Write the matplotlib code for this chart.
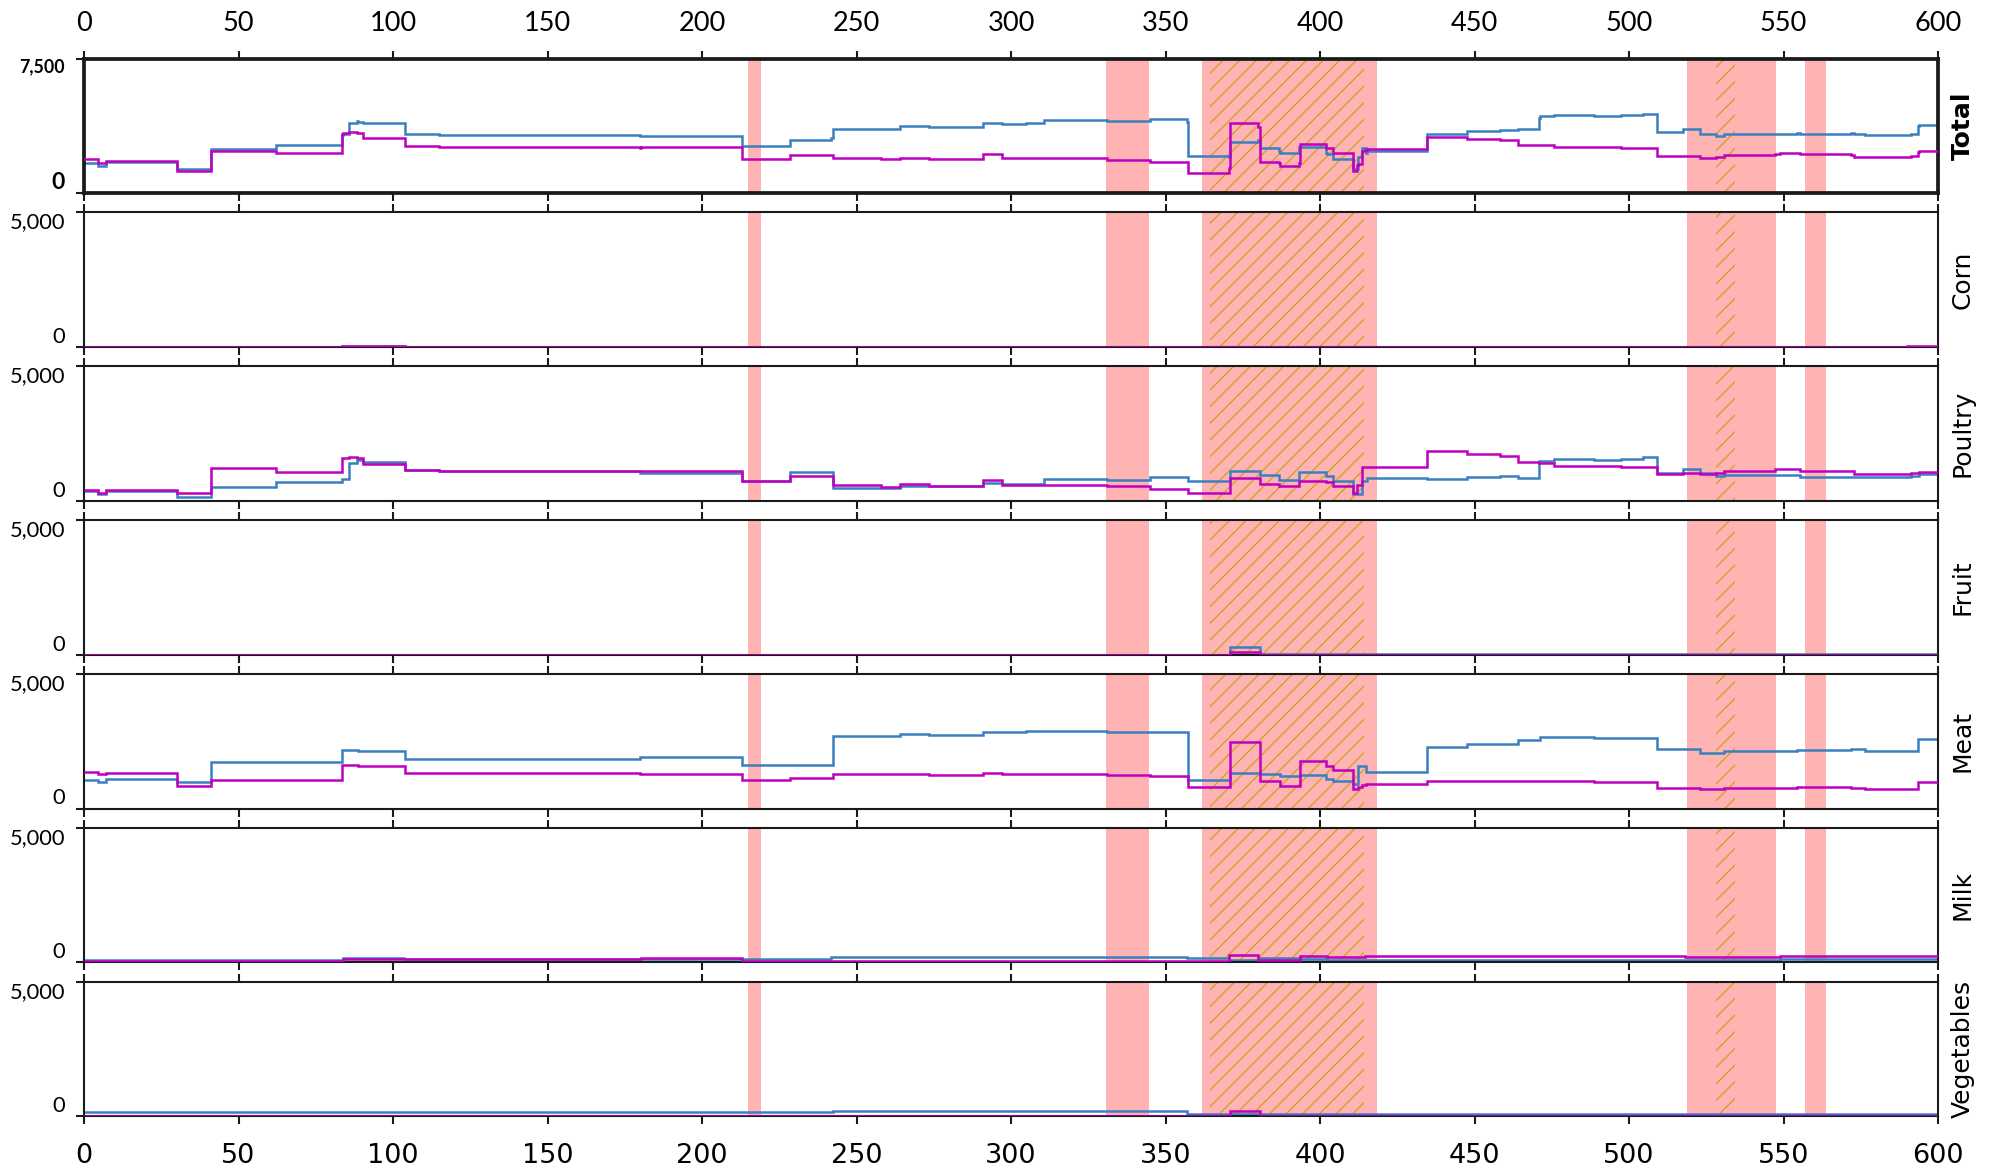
import matplotlib
matplotlib.use("Agg")
import matplotlib.pyplot as plt
import numpy as np

# step series: edges (len n+1), blue values and magenta values (len n)
corn_edges = [0, 83.6, 104, 590, 600]
corn_blue = [5, 20, 5, 5]
corn_mag = [5, 20, 5, 40]

poultry_edges = [0, 4.5, 7.2, 30, 41, 62, 83.6, 85.7, 88.3, 90.2, 104, 115, 180, 213,
                 228.5, 242.5, 258, 264, 273.5, 291, 297, 310.6, 323.6, 331, 345, 357.3,
                 371, 380.6, 386.8, 393.3, 402, 404.2, 410.8, 412, 413.5, 415.2, 434.5,
                 447.6, 458.1, 464.2, 470.9, 475.6, 488.7, 497.5, 504.5, 508.9, 517.6,
                 522.9, 528.1, 530.8, 547.4, 555.3, 572.8, 591.2, 593.8, 600]
poultry_blue = [370, 269, 370, 156, 495, 696, 809, 1400, 1500, 1460, 1160, 1120, 1022, 747,
                1061, 470, 458, 559, 546, 659, 621, 810, 800, 780, 897, 747,
                1098, 973, 772, 1086, 935, 747, 244, 244, 747, 835, 810,
                897, 935, 847, 1465, 1540, 1500, 1562, 1625, 1023, 1186,
                1023, 935, 973, 973, 897, 872, 935, 999]
poultry_mag = [420, 295, 396, 282, 1222, 1087, 1590, 1640, 1600, 1350, 1160, 1120, 1100, 747,
               935, 584, 521, 634, 546, 785, 597, 584, 570, 540, 432, 282,
               847, 621, 558, 747, 684, 558, 307, 600, 1248, 1273, 1850,
               1750, 1675, 1424, 1411, 1311, 1311, 1273, 1273, 999, 1023,
               999, 1023, 1098, 1186, 1123, 999, 1023, 1060]

fruit_edges = [0, 371, 380.6, 600]
fruit_blue = [0, 272, 10]
fruit_mag = [0, 86, 0]

meat_edges = [0, 4.5, 7.2, 30, 41, 83.6, 88.7, 104, 180, 213, 228.5, 242.5, 264, 273.5,
              291, 297, 305, 323.6, 331, 345, 357.3, 371, 380.6, 387.1, 393.6, 402, 404.2,
              410.8, 412.2, 413.5, 414.9, 434.5, 447.6, 458.1, 464.2, 471.2, 488.7, 508.9,
              522.9, 530.8, 554.4, 572, 576.3, 593.5, 600]
meat_blue = [1068, 993, 1106, 968, 1735, 2175, 2137, 1848, 1911, 1622, 1634, 2703, 2753,
             2728, 2853, 2828, 2878, 2870, 2850, 2853, 1068, 1320, 1282, 1219, 1257, 1094,
             1006, 918, 1596, 1596, 1345, 2300, 2413, 2413, 2552, 2652, 2615, 2200,
             2061, 2124, 2162, 2212, 2149, 2577]
meat_mag = [1370, 1295, 1320, 855, 1056, 1609, 1571, 1320, 1282, 1056, 1131, 1282, 1270,
            1257, 1307, 1300, 1300, 1290, 1230, 1219, 792, 2489, 1006, 842, 1760, 1596,
            1446, 716, 817, 880, 918, 1006, 1006, 1006, 1006, 1018, 968, 779,
            742, 779, 804, 770, 742, 993]

milk_edges = [0, 83.7, 103.6, 180.4, 213, 241.8, 357, 370.4, 380, 393.5, 402.3, 414.6, 518, 549, 600]
milk_blue = [100, 176, 126, 113, 113, 214, 150, 100, 176, 113, 75, 75, 90, 126]
milk_mag = [63, 126, 126, 150, 50, 50, 40, 276, 75, 226, 200, 240, 214, 226]

veg_edges = [0, 242.5, 357, 371, 380.6, 600]
veg_blue = [140, 190, 80, 80, 80]
veg_mag = [20, 20, 20, 200, 20]

shaded = [(215.0, 219.2), (330.9, 344.6), (361.9, 418.4), (518.7, 547.6), (557.1, 563.7)]
hatched = [(364.3, 414.3), (528.2, 534.4)]

categories = ["Corn", "Poultry", "Fruit", "Meat", "Milk", "Vegetables"]
series = [(corn_edges, corn_blue, corn_mag),
          (poultry_edges, poultry_blue, poultry_mag),
          (fruit_edges, fruit_blue, fruit_mag),
          (meat_edges, meat_blue, meat_mag),
          (milk_edges, milk_blue, milk_mag),
          (veg_edges, veg_blue, veg_mag)]


def step_at(edges, vals, xs):
    idx = np.searchsorted(edges, xs, side="right") - 1
    idx = np.clip(idx, 0, len(vals) - 1)
    return np.asarray(vals, dtype=float)[idx]


# total = sum of all categories on the union of breakpoints
total_edges = np.unique(np.concatenate([np.asarray(s[0], float) for s in series]))
left_pts = total_edges[:-1]
total_blue = sum(step_at(e, b, left_pts) for e, b, m in series)
total_mag = sum(step_at(e, m, left_pts) for e, b, m in series)

panels = [("Total", total_edges, total_blue, total_mag, 7500)]
for name, (e, b, m) in zip(categories, series):
    panels.append((name, e, b, m, 5000))

BLUE = "#3a80c0"
MAG = "#c000c0"
PINK = "#ffb3b3"
HATCH = "#c9a21c"

W, H = 1999, 1170
DPI = 150
fig = plt.figure(figsize=(W / DPI, H / DPI), dpi=DPI)
plt.rcParams["hatch.linewidth"] = 0.6

left_px, right_px = 84, 1938
top0, pitch, ph = 58.6, 153.85, 134.5
xticks = np.arange(0, 601, 50)

for i, (name, edges, blue, mag, ymax) in enumerate(panels):
    top = top0 + i * pitch
    ax = fig.add_axes([left_px / W, 1 - (top + ph) / H, (right_px - left_px) / W, ph / H])
    for a, b in shaded:
        ax.axvspan(a, b, color=PINK, lw=0, zorder=0.5)
    for a, b in hatched:
        ax.axvspan(a, b, fill=False, hatch="///", edgecolor=HATCH, lw=0, zorder=0.6)
    ax.stairs(blue, edges, baseline=None, color=BLUE, lw=1.2, zorder=2)
    ax.stairs(mag, edges, baseline=None, color=MAG, lw=1.2, zorder=3)
    ax.set_xlim(0, 600)
    ax.set_ylim(0, ymax)

    is_total = name == "Total"
    spine_w = 1.8 if is_total else 1.0
    for sp in ax.spines.values():
        sp.set_linewidth(spine_w)
        sp.set_color("#1a1a1a")

    ax.set_xticks(xticks)
    ax.tick_params(axis="x", which="both", direction="out", length=4, width=1.0,
                   top=True, bottom=True, labeltop=(i == 0),
                   labelbottom=(i == len(panels) - 1), color="#1a1a1a")
    ax.tick_params(axis="x", labelsize=12, pad=7)
    if i == 0:
        for lab in ax.get_xticklabels():
            lab.set_family("Lato")
            lab.set_fontsize(13)
    if i == len(panels) - 1:
        ax.tick_params(axis="x", labelsize=13, pad=9)

    ax.set_yticks([0, ymax], labels=["0", f"{ymax:,}"])
    ax.tick_params(axis="y", direction="out", length=4, width=1.0, pad=5, color="#1a1a1a")
    ylabs = ax.get_yticklabels()
    ylabs[0].set_va("bottom")
    ylabs[1].set_va("top")
    for lab in ylabs:
        lab.set_family("Lato")
        lab.set_fontsize(10.5)
    if is_total:
        ylabs[0].set_fontweight("bold")
        ylabs[0].set_fontsize(11)
        ylabs[1].set_fontweight("bold")
        ylabs[1].set_fontsize(8.5)

    ax.yaxis.set_label_position("right")
    ax.set_ylabel(name, fontsize=12, labelpad=6,
                  fontweight="bold" if is_total else "normal")

fig.savefig("out.png", dpi=DPI)
